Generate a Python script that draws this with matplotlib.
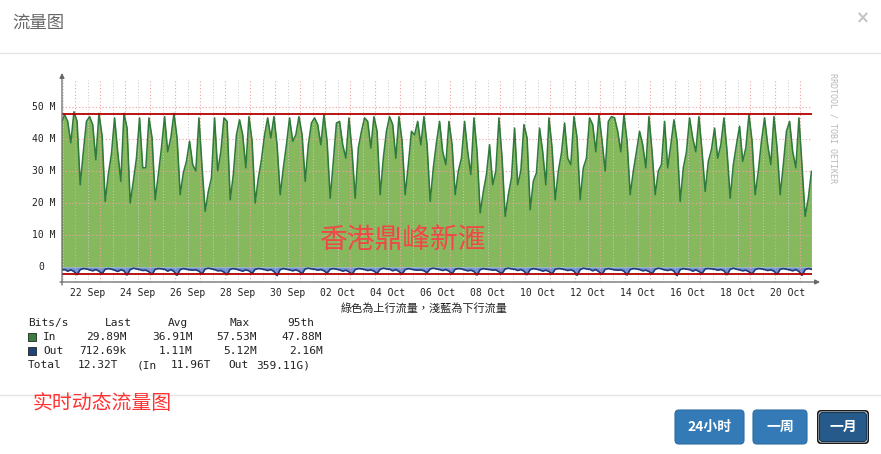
import numpy as np
import matplotlib.pyplot as plt
from matplotlib import transforms
from matplotlib.patches import FancyBboxPatch, Rectangle

# ---- data (Mbit/s), 3-hourly samples from 21 Sep 11:00 to 21 Oct 11:00 ----
# rows: day, values at 02,05,08,11,14,17,20,23 h
in_mbps = [
    45.0, 47.6, 45.5, 38.8, 48.5,                       # 21 Sep (11..23h)
    45.5, 25.7, 36.0, 45.5, 47.0, 44.5, 33.5, 48.0,     # 22 Sep
    41.0, 20.5, 29.0, 35.3, 46.6, 36.0, 26.8, 48.0,     # 23 Sep
    43.4, 20.0, 26.8, 34.0, 46.6, 31.0, 31.0, 46.6,     # 24 Sep
    40.3, 21.0, 28.9, 37.2, 47.0, 36.0, 40.3, 48.0,     # 25 Sep
    40.3, 22.6, 29.4, 33.0, 39.3, 32.0, 30.0, 46.6,     # 26 Sep
    31.0, 17.4, 23.6, 27.8, 46.6, 30.0, 36.0, 46.6,     # 27 Sep
    45.5, 21.0, 28.9, 41.3, 46.0, 41.3, 31.0, 47.0,     # 28 Sep
    39.3, 20.0, 27.8, 33.5, 41.3, 46.6, 40.3, 47.0,     # 29 Sep
    38.2, 22.6, 31.0, 38.2, 46.6, 39.3, 41.3, 47.0,     # 30 Sep
    41.3, 26.8, 38.2, 45.0, 46.6, 44.5, 38.2, 47.6,     # 01 Oct
    39.3, 21.5, 33.0, 45.0, 45.5, 38.2, 34.0, 46.6,     # 02 Oct
    36.0, 21.5, 37.2, 42.4, 46.6, 45.5, 37.2, 47.0,     # 03 Oct
    42.4, 22.6, 34.0, 42.4, 47.0, 44.5, 34.0, 47.0,     # 04 Oct
    39.3, 22.6, 32.0, 42.4, 41.3, 45.5, 38.2, 47.0,     # 05 Oct
    38.2, 20.5, 31.0, 38.8, 45.5, 36.0, 32.0, 45.5,     # 06 Oct
    38.2, 22.6, 30.0, 34.0, 45.5, 36.0, 28.9, 46.6,     # 07 Oct
    36.0, 16.9, 23.6, 28.9, 38.2, 25.7, 30.0, 46.6,     # 08 Oct
    34.0, 15.8, 22.6, 27.8, 43.4, 25.7, 30.0, 44.5,     # 09 Oct
    40.3, 17.9, 26.8, 29.4, 43.4, 36.0, 25.7, 46.6,     # 10 Oct
    37.2, 21.0, 30.0, 35.6, 45.0, 34.0, 32.0, 47.0,     # 11 Oct
    40.3, 21.0, 31.0, 34.0, 46.6, 44.5, 36.0, 47.6,     # 12 Oct
    39.3, 30.0, 45.5, 47.0, 46.6, 42.4, 36.0, 47.6,     # 13 Oct
    39.3, 22.6, 30.0, 36.0, 42.4, 38.2, 31.0, 47.0,     # 14 Oct
    36.0, 22.6, 30.0, 32.0, 45.5, 31.0, 38.2, 46.0,     # 15 Oct
    39.3, 20.5, 31.0, 36.0, 46.6, 40.3, 36.0, 47.0,     # 16 Oct
    36.0, 23.6, 33.0, 36.7, 43.4, 34.0, 38.2, 46.6,     # 17 Oct
    36.0, 21.5, 32.0, 38.2, 44.0, 33.0, 37.2, 47.6,     # 18 Oct
    39.3, 22.6, 30.0, 39.3, 46.6, 38.2, 32.0, 47.0,     # 19 Oct
    37.2, 22.6, 32.0, 42.4, 45.5, 36.0, 31.0, 46.6,     # 20 Oct
    31.0, 15.8, 21.5, 29.89,                            # 21 Oct (02..11h)
]
out_mbps = [
    0.9, 0.8, 1.3, 0.9, 1.4,
    2.4, 0.8, 0.5, 0.6, 0.9, 1.2, 0.8, 1.3,
    2.1, 0.7, 0.5, 0.7, 1.0, 1.4, 0.9, 1.2,
    2.5, 0.8, 0.4, 0.6, 0.8, 1.1, 1.0, 1.5,
    2.3, 0.7, 0.5, 0.6, 0.7, 1.3, 0.8, 1.4,
    2.6, 0.8, 0.5, 0.7, 0.9, 1.0, 0.9, 1.3,
    2.2, 0.6, 0.4, 0.6, 0.8, 1.2, 1.1, 1.6,
    2.4, 0.7, 0.5, 0.7, 1.0, 1.3, 0.9, 1.2,
    2.0, 0.7, 0.5, 0.6, 0.8, 1.1, 0.8, 1.4,
    2.7, 0.8, 0.5, 0.7, 0.9, 1.2, 0.9, 1.3,
    2.1, 0.6, 0.4, 0.6, 0.7, 1.0, 0.8, 1.2,
    1.9, 0.7, 0.5, 0.7, 0.9, 1.3, 1.0, 1.5,
    2.3, 0.8, 0.5, 0.6, 0.8, 1.1, 0.9, 1.3,
    2.0, 0.7, 0.4, 0.6, 0.7, 1.2, 0.8, 1.4,
    2.2, 0.8, 0.5, 0.7, 0.9, 1.0, 0.9, 1.2,
    1.8, 0.6, 0.4, 0.6, 0.8, 1.1, 0.8, 1.3,
    2.1, 0.7, 0.5, 0.6, 0.9, 1.2, 1.0, 1.4,
    2.5, 0.8, 0.5, 0.7, 0.8, 1.0, 0.9, 1.5,
    2.0, 0.6, 0.4, 0.6, 0.7, 1.1, 0.8, 1.3,
    2.4, 0.8, 0.5, 0.7, 0.9, 1.3, 1.0, 1.4,
    2.2, 0.7, 0.5, 0.6, 0.8, 1.1, 0.9, 1.3,
    2.6, 0.8, 0.4, 0.6, 0.7, 1.2, 0.8, 1.5,
    2.3, 0.7, 0.5, 0.7, 0.9, 1.0, 0.9, 1.3,
    2.5, 0.8, 0.5, 0.6, 0.8, 1.2, 1.0, 1.4,
    2.1, 0.7, 0.4, 0.6, 0.9, 1.1, 0.8, 1.3,
    2.7, 0.8, 0.5, 0.7, 0.8, 1.3, 0.9, 1.4,
    2.0, 0.6, 0.5, 0.6, 0.7, 1.0, 0.8, 1.2,
    2.4, 0.7, 0.4, 0.7, 0.9, 1.2, 1.0, 1.5,
    2.2, 0.8, 0.5, 0.6, 0.8, 1.1, 0.9, 1.3,
    2.3, 0.7, 0.5, 0.7, 0.9, 1.2, 0.8, 1.4,
    2.6, 0.8, 0.5, 0.71,
]
in_95th = 47.88
out_95th = 2.16

y_ticks = [0, 10, 20, 30, 40, 50]
y_labels = ['0', '10 M', '20 M', '30 M', '40 M', '50 M']
x_label_days = list(range(0, 30, 2))   # days after 22 Sep
x_labels = ['22 Sep', '24 Sep', '26 Sep', '28 Sep', '30 Sep', '02 Oct', '04 Oct',
            '06 Oct', '08 Oct', '10 Oct', '12 Oct', '14 Oct', '16 Oct', '18 Oct', '20 Oct']

legend_rows = [
    [('Bits/s', 28), ('Last', 105), ('Avg', 168), ('Max', 230), ('95th', 287)],
    [('In', 43), ('29.89M', 86), ('36.91M', 152), ('57.53M', 216), ('47.88M', 281)],
    [('Out', 43), ('712.69k', 79), ('1.11M', 159), ('5.12M', 223), ('2.16M', 289)],
    [('Total', 28), ('12.32T', 78), ('(In', 137), ('11.96T', 171), ('Out', 228), ('359.11G)', 256)],
]
buttons = ['24小时', '一周', '一月']

# time axis in days from 22 Sep 00:00, one sample every 3 hours
t = -13 / 24 + np.arange(len(in_mbps)) / 8
inv = np.array(in_mbps)
outv = -np.array(out_mbps)

W, H = 881, 454
CJK = ['Noto Sans CJK SC', 'DejaVu Sans']
MONO = 'DejaVu Sans Mono'

fig = plt.figure(figsize=(W / 100, H / 100), dpi=100)
fig.patch.set_facecolor('white')

# background layer in pixel coordinates
bg = fig.add_axes([0, 0, 1, 1], zorder=0)
bg.set_xlim(0, W)
bg.set_ylim(H, 0)
bg.axis('off')


def fbox(x0, y0, x1, y1):
    return [x0 / W, 1 - y1 / H, (x1 - x0) / W, (y1 - y0) / H]


# ---- graph ----
ax = fig.add_axes(fbox(62, 80, 812, 282), zorder=1)
ax.set_facecolor('none')
ax.set_xlim(-0.52, 29.48)
ax.set_ylim(-4.69, 58.44)
for s in ax.spines.values():
    s.set_visible(False)
ax.set_xticks([])
ax.set_yticks([])

ax.fill_between(t, 0, inv, color='#86B95D', lw=0, zorder=1)
ax.fill_between(t, 0, outv, color='#7592D2', lw=0, zorder=1)

# grid
for d in range(0, 30):
    ax.axvline(d, color='#F0A0A0', lw=0.8, ls=(0, (1, 2)), zorder=2)
for d in range(-1, 30):
    ax.axvline(d + 0.5, color='#CACACA', lw=0.7, ls=(0, (1, 2)), zorder=2)
for v in y_ticks[1:]:
    ax.axhline(v, color='#F0A0A0', lw=0.8, ls=(0, (1, 2)), zorder=2)

ax.plot(t, inv, color='#2F7A3C', lw=1.15, zorder=3)
ax.plot(t, outv, color='#1E3B7A', lw=1.2, zorder=3)
ax.axhline(in_95th, color='#B40000', lw=1.3, zorder=4)
ax.axhline(-out_95th, color='#B40000', lw=1.3, zorder=4)

ytr = transforms.blended_transform_factory(ax.transAxes, ax.transData)
for v, lab in zip(y_ticks, y_labels):
    if v == 0:
        ax.text(-21 / 750, v, lab, transform=ytr, ha='center', va='center',
                family=MONO, fontsize=7, color='#222')
    else:
        ax.text(-7 / 750, v, lab, transform=ytr, ha='right', va='center',
                family=MONO, fontsize=7, color='#222')
xtr = transforms.blended_transform_factory(ax.transData, ax.transAxes)
for d, lab in zip(x_label_days, x_labels):
    ax.text(d + 0.5, -11 / 202, lab, transform=xtr, ha='center', va='center',
            family=MONO, fontsize=7, color='#222')

# ---- overlay: axes arrows, captions, watermark ----
top = fig.add_axes([0, 0, 1, 1], zorder=5)
top.set_xlim(0, W)
top.set_ylim(H, 0)
top.axis('off')
top.set_facecolor('none')
top.annotate('', xy=(820, 282), xytext=(60, 282),
             arrowprops=dict(arrowstyle='-|>', color='#666', lw=0.9, mutation_scale=7, shrinkA=0, shrinkB=0))
top.annotate('', xy=(62, 73), xytext=(62, 285),
             arrowprops=dict(arrowstyle='-|>', color='#666', lw=0.9, mutation_scale=7, shrinkA=0, shrinkB=0))

top.text(424, 308, '綠色為上行流量，淺藍為下行流量', ha='center', va='center',
         family=['Noto Sans CJK TC', 'DejaVu Sans'], fontsize=8, color='#222')
top.text(833, 73, 'RRDTOOL / TOBI OETIKER', rotation=270, ha='center', va='top',
         family=MONO, fontsize=6, color='#B8B8B8')
top.text(403, 241, '香港鼎峰新滙', ha='center', va='center', family=CJK,
         fontsize=20, color='#F04848')

# legend block
for row, ypx in zip(legend_rows, [323, 337, 351, 365]):
    for txt, xpx in row:
        top.text(xpx, ypx, txt, ha='left', va='center', family=MONO, fontsize=8, color='#222')
top.add_patch(Rectangle((28, 333), 7.5, 7.5, fc='#3A7F3E', ec='#222', lw=0.6))
top.add_patch(Rectangle((28, 347), 7.5, 7.5, fc='#1F4578', ec='#222', lw=0.6))

# ---- modal chrome ----
bg.text(12, 23, '流量图', ha='left', va='center', family=CJK, fontsize=12.5, color='#666')
bg.text(863, 18, '×', ha='center', va='center', fontsize=12, fontweight='bold', color='#C4C4C4')
bg.plot([0, W], [52.5, 52.5], color='#E5E5E5', lw=1)
bg.plot([0, W], [394.5, 394.5], color='#E5E5E5', lw=1)
bg.text(33, 403.5, '实时动态流量图', ha='left', va='center', family=CJK, fontsize=14.3, color='#FF3333')

btn_pos = [(675, 744), (753, 807), (817, 869)]
for lab, (x0, x1) in zip(buttons, btn_pos):
    if lab == '一月':
        bg.add_patch(FancyBboxPatch((x0, 410), x1 - x0, 34, boxstyle='round,pad=0,rounding_size=4',
                                    fc='#1A1A1A', ec='none'))
        bg.add_patch(FancyBboxPatch((x0 + 1.5, 411.5), x1 - x0 - 3, 31, boxstyle='round,pad=0,rounding_size=3',
                                    fc='white', ec='none'))
        bg.add_patch(FancyBboxPatch((x0 + 2.5, 412.5), x1 - x0 - 5, 29, boxstyle='round,pad=0,rounding_size=3',
                                    fc='#255A8A', ec='#173A5A', lw=0.8))
    else:
        bg.add_patch(FancyBboxPatch((x0, 410), x1 - x0, 34, boxstyle='round,pad=0,rounding_size=4',
                                    fc='#337AB7', ec='#2E6DA4', lw=0.8))
    bg.text((x0 + x1) / 2, 427, lab, ha='center', va='center', family=CJK,
            fontsize=10, fontweight='bold', color='white')

fig.savefig('out.png', dpi=100)
